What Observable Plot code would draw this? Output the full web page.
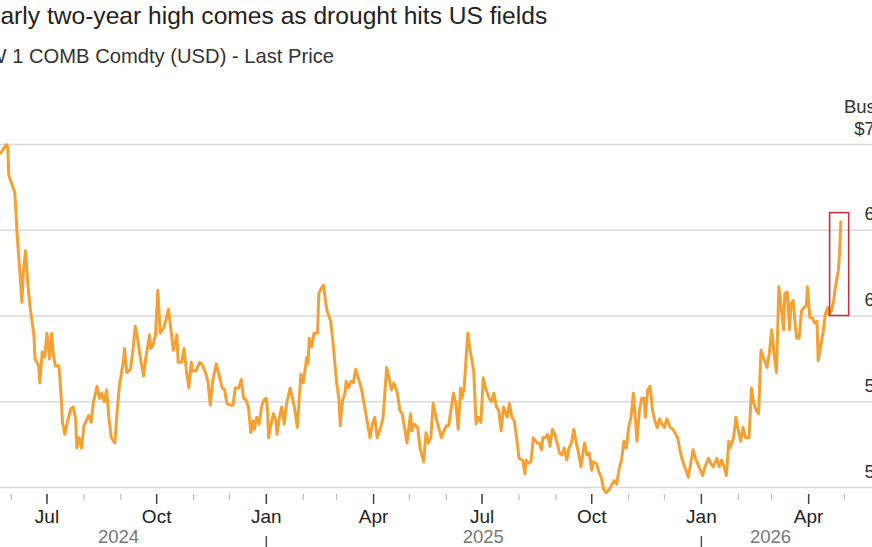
<!DOCTYPE html>
<html>
<head>
<meta charset="utf-8">
<script src="https://cdn.jsdelivr.net/npm/d3@7"></script>
<script src="https://cdn.jsdelivr.net/npm/@observablehq/plot@0.6"></script>
<style>
  html, body { margin: 0; padding: 0; background: #fff; overflow: hidden; width: 872px; height: 547px; }
  body { position: relative; font-family: "Liberation Sans", Arial, sans-serif; }
  #title { position: absolute; left: -31px; top: 0; font-size: 24.6px; line-height: 32px; color: #222; white-space: nowrap; }
  #subtitle { position: absolute; left: -26px; top: 40px; font-size: 20.2px; line-height: 32px; color: #333; white-space: nowrap; }
  #chart { position: absolute; left: 0; top: 80px; width: 910px; }
  #chart svg { max-width: none !important; }
</style>
</head>
<body>
<div id="title">Nearly two-year high comes as drought hits US fields</div>
<div id="subtitle">KW 1 COMB Comdty (USD) - Last Price</div>
<div id="chart"></div>
<script>
// KC hard red winter wheat, front-month settlement, USD per bushel
const wheat = [
  ["2024-05-23", 6.95], ["2024-05-28", 7.00], ["2024-05-29", 6.99], ["2024-05-30", 6.82],
  ["2024-06-02", 6.76], ["2024-06-04", 6.72], ["2024-06-06", 6.47], ["2024-06-08", 6.28],
  ["2024-06-10", 6.08], ["2024-06-11", 6.24], ["2024-06-13", 6.38], ["2024-06-15", 6.18],
  ["2024-06-17", 6.04], ["2024-06-20", 5.89], ["2024-06-21", 5.75], ["2024-06-24", 5.71],
  ["2024-06-25", 5.61], ["2024-06-27", 5.79], ["2024-06-29", 5.76], ["2024-07-01", 5.90],
  ["2024-07-03", 5.75], ["2024-07-05", 5.90], ["2024-07-06", 5.79], ["2024-07-08", 5.71],
  ["2024-07-11", 5.71], ["2024-07-13", 5.52], ["2024-07-14", 5.38], ["2024-07-16", 5.31],
  ["2024-07-18", 5.38], ["2024-07-21", 5.46], ["2024-07-23", 5.47], ["2024-07-25", 5.40],
  ["2024-07-26", 5.23], ["2024-07-28", 5.29], ["2024-07-30", 5.23], ["2024-08-01", 5.36],
  ["2024-08-03", 5.39], ["2024-08-05", 5.42], ["2024-08-07", 5.38], ["2024-08-09", 5.50],
  ["2024-08-12", 5.59], ["2024-08-14", 5.52], ["2024-08-16", 5.55], ["2024-08-18", 5.50],
  ["2024-08-20", 5.57], ["2024-08-22", 5.40], ["2024-08-24", 5.29], ["2024-08-27", 5.26],
  ["2024-08-29", 5.46], ["2024-08-31", 5.61], ["2024-09-03", 5.73], ["2024-09-04", 5.81],
  ["2024-09-06", 5.67], ["2024-09-09", 5.69], ["2024-09-11", 5.79], ["2024-09-13", 5.94],
  ["2024-09-15", 5.87], ["2024-09-17", 5.77], ["2024-09-20", 5.65], ["2024-09-22", 5.76],
  ["2024-09-25", 5.89], ["2024-09-26", 5.81], ["2024-09-28", 5.83], ["2024-09-30", 5.89],
  ["2024-10-02", 6.15], ["2024-10-04", 5.90], ["2024-10-07", 5.93], ["2024-10-11", 6.04],
  ["2024-10-15", 5.80], ["2024-10-18", 5.89], ["2024-10-19", 5.73], ["2024-10-22", 5.73],
  ["2024-10-24", 5.81], ["2024-10-26", 5.68], ["2024-10-28", 5.58], ["2024-10-30", 5.73],
  ["2024-10-31", 5.68], ["2024-11-03", 5.68], ["2024-11-06", 5.73], ["2024-11-08", 5.72],
  ["2024-11-11", 5.67], ["2024-11-13", 5.62], ["2024-11-15", 5.48], ["2024-11-17", 5.62],
  ["2024-11-20", 5.72], ["2024-11-23", 5.64], ["2024-11-25", 5.58], ["2024-11-27", 5.57],
  ["2024-11-29", 5.49], ["2024-12-02", 5.48], ["2024-12-04", 5.48], ["2024-12-06", 5.58],
  ["2024-12-09", 5.58], ["2024-12-11", 5.63], ["2024-12-13", 5.52], ["2024-12-15", 5.51],
  ["2024-12-17", 5.47], ["2024-12-19", 5.32], ["2024-12-21", 5.39], ["2024-12-22", 5.34],
  ["2024-12-24", 5.41], ["2024-12-26", 5.37], ["2024-12-28", 5.47], ["2024-12-30", 5.51],
  ["2025-01-01", 5.52], ["2025-01-02", 5.45], ["2025-01-03", 5.29], ["2025-01-05", 5.37],
  ["2025-01-07", 5.43], ["2025-01-09", 5.39], ["2025-01-10", 5.31], ["2025-01-12", 5.41],
  ["2025-01-14", 5.47], ["2025-01-16", 5.37], ["2025-01-18", 5.49], ["2025-01-21", 5.58],
  ["2025-01-23", 5.52], ["2025-01-25", 5.45], ["2025-01-27", 5.35], ["2025-01-30", 5.66],
  ["2025-02-01", 5.61], ["2025-02-04", 5.76], ["2025-02-05", 5.72], ["2025-02-06", 5.87],
  ["2025-02-08", 5.82], ["2025-02-10", 5.90], ["2025-02-13", 5.90], ["2025-02-14", 6.13],
  ["2025-02-16", 6.16], ["2025-02-18", 6.18], ["2025-02-20", 6.07], ["2025-02-21", 6.03],
  ["2025-02-24", 5.97], ["2025-02-26", 5.84], ["2025-03-01", 5.61], ["2025-03-03", 5.51],
  ["2025-03-04", 5.36], ["2025-03-06", 5.51], ["2025-03-08", 5.55], ["2025-03-09", 5.62],
  ["2025-03-11", 5.58], ["2025-03-13", 5.62], ["2025-03-15", 5.61], ["2025-03-17", 5.69],
  ["2025-03-20", 5.62], ["2025-03-22", 5.57], ["2025-03-24", 5.49], ["2025-03-27", 5.37],
  ["2025-03-29", 5.29], ["2025-03-31", 5.37], ["2025-04-02", 5.41], ["2025-04-04", 5.29],
  ["2025-04-07", 5.35], ["2025-04-09", 5.41], ["2025-04-12", 5.70], ["2025-04-14", 5.64],
  ["2025-04-16", 5.57], ["2025-04-18", 5.61], ["2025-04-21", 5.55], ["2025-04-23", 5.45],
  ["2025-04-25", 5.43], ["2025-04-27", 5.35], ["2025-04-29", 5.26], ["2025-05-02", 5.43],
  ["2025-05-03", 5.33], ["2025-05-05", 5.37], ["2025-05-08", 5.35], ["2025-05-10", 5.23],
  ["2025-05-13", 5.15], ["2025-05-15", 5.32], ["2025-05-17", 5.26], ["2025-05-19", 5.29],
  ["2025-05-21", 5.49], ["2025-05-24", 5.39], ["2025-05-28", 5.29], ["2025-05-30", 5.33],
  ["2025-06-01", 5.36], ["2025-06-03", 5.36], ["2025-06-04", 5.41], ["2025-06-07", 5.55],
  ["2025-06-09", 5.49], ["2025-06-11", 5.34], ["2025-06-13", 5.58], ["2025-06-14", 5.52],
  ["2025-06-16", 5.58], ["2025-06-19", 5.90], ["2025-06-21", 5.80], ["2025-06-24", 5.68],
  ["2025-06-26", 5.37], ["2025-06-28", 5.41], ["2025-06-30", 5.38], ["2025-07-02", 5.64],
  ["2025-07-04", 5.58], ["2025-07-07", 5.52], ["2025-07-09", 5.50], ["2025-07-11", 5.55],
  ["2025-07-13", 5.47], ["2025-07-15", 5.45], ["2025-07-17", 5.33], ["2025-07-19", 5.47],
  ["2025-07-22", 5.41], ["2025-07-24", 5.49], ["2025-07-26", 5.41], ["2025-07-28", 5.39],
  ["2025-07-30", 5.29], ["2025-08-01", 5.17], ["2025-08-04", 5.16], ["2025-08-06", 5.08],
  ["2025-08-07", 5.16], ["2025-08-09", 5.14], ["2025-08-11", 5.15], ["2025-08-13", 5.29],
  ["2025-08-16", 5.26], ["2025-08-18", 5.26], ["2025-08-20", 5.22], ["2025-08-21", 5.29],
  ["2025-08-23", 5.29], ["2025-08-25", 5.31], ["2025-08-27", 5.24], ["2025-08-29", 5.34],
  ["2025-08-31", 5.31], ["2025-09-02", 5.26], ["2025-09-04", 5.20], ["2025-09-06", 5.19],
  ["2025-09-08", 5.23], ["2025-09-10", 5.16], ["2025-09-12", 5.23], ["2025-09-14", 5.26],
  ["2025-09-16", 5.34], ["2025-09-18", 5.26], ["2025-09-20", 5.20], ["2025-09-22", 5.12],
  ["2025-09-23", 5.17], ["2025-09-25", 5.26], ["2025-09-27", 5.19], ["2025-09-29", 5.20],
  ["2025-10-01", 5.10], ["2025-10-02", 5.15], ["2025-10-05", 5.14], ["2025-10-07", 5.09],
  ["2025-10-09", 5.06], ["2025-10-11", 4.99], ["2025-10-13", 4.97], ["2025-10-16", 4.99],
  ["2025-10-18", 5.02], ["2025-10-20", 5.04], ["2025-10-22", 5.02], ["2025-10-24", 5.11],
  ["2025-10-26", 5.16], ["2025-10-28", 5.27], ["2025-10-30", 5.23], ["2025-11-01", 5.35],
  ["2025-11-03", 5.41], ["2025-11-05", 5.55], ["2025-11-08", 5.27], ["2025-11-10", 5.45],
  ["2025-11-12", 5.52], ["2025-11-14", 5.52], ["2025-11-15", 5.41], ["2025-11-17", 5.57],
  ["2025-11-19", 5.59], ["2025-11-21", 5.45], ["2025-11-23", 5.39], ["2025-11-25", 5.35],
  ["2025-11-27", 5.40], ["2025-11-29", 5.37], ["2025-12-01", 5.35], ["2025-12-03", 5.40],
  ["2025-12-06", 5.35], ["2025-12-08", 5.34], ["2025-12-09", 5.33], ["2025-12-12", 5.29],
  ["2025-12-14", 5.22], ["2025-12-16", 5.16], ["2025-12-19", 5.10], ["2025-12-21", 5.06],
  ["2025-12-23", 5.14], ["2025-12-25", 5.22], ["2025-12-27", 5.17], ["2025-12-30", 5.12],
  ["2026-01-02", 5.07], ["2026-01-04", 5.12], ["2026-01-07", 5.17], ["2026-01-09", 5.14],
  ["2026-01-11", 5.12], ["2026-01-14", 5.17], ["2026-01-16", 5.12], ["2026-01-18", 5.16],
  ["2026-01-20", 5.12], ["2026-01-22", 5.07], ["2026-01-24", 5.27], ["2026-01-25", 5.23],
  ["2026-01-28", 5.29], ["2026-01-30", 5.41], ["2026-02-01", 5.33], ["2026-02-03", 5.27],
  ["2026-02-05", 5.35], ["2026-02-07", 5.29], ["2026-02-10", 5.29], ["2026-02-12", 5.58],
  ["2026-02-14", 5.49], ["2026-02-16", 5.45], ["2026-02-18", 5.43], ["2026-02-20", 5.80],
  ["2026-02-22", 5.76], ["2026-02-25", 5.70], ["2026-02-27", 5.78], ["2026-03-01", 5.92],
  ["2026-03-03", 5.78], ["2026-03-05", 5.67], ["2026-03-07", 6.17], ["2026-03-09", 6.05],
  ["2026-03-11", 5.92], ["2026-03-12", 6.13], ["2026-03-14", 6.14], ["2026-03-16", 5.92],
  ["2026-03-17", 6.07], ["2026-03-19", 6.09], ["2026-03-21", 5.93], ["2026-03-22", 5.87],
  ["2026-03-24", 5.87], ["2026-03-26", 6.03], ["2026-03-28", 6.05], ["2026-03-30", 6.06],
  ["2026-03-31", 6.17], ["2026-04-02", 5.99], ["2026-04-04", 5.99], ["2026-04-06", 5.96],
  ["2026-04-08", 5.97], ["2026-04-09", 5.74], ["2026-04-11", 5.82], ["2026-04-13", 5.90],
  ["2026-04-15", 6.01], ["2026-04-17", 6.05], ["2026-04-18", 6.01], ["2026-04-20", 6.03],
  ["2026-04-22", 6.09], ["2026-04-23", 6.15], ["2026-04-24", 6.19], ["2026-04-26", 6.27],
  ["2026-04-27", 6.38], ["2026-04-28", 6.55]
];

// Highlight around the latest rally
const highlight = [{start: "2026-04-19", end: "2026-05-05", low: 6.00, high: 6.60}];

// Price gridlines and their labels (top one carries the currency sign)
const priceTicks = [5.0, 5.5, 6.0, 6.5, 7.0];
const priceLabels = ["5.00", "5.50", "6.00", "6.50", "$7.00"];
const unitLabel = "Bushel";

// Time axis: visible span, quarter labels, year labels and year dividers
const xStart = "2024-05-23";
const xEnd = "2026-05-14T12:00Z";
const quarterTicks = ["2024-07-01", "2024-10-01", "2025-01-01", "2025-04-01", "2025-07-01", "2025-10-01", "2026-01-01", "2026-04-01"];
const quarterLabels = ["Jul", "Oct", "Jan", "Apr", "Jul", "Oct", "Jan", "Apr"];
const yearLabels = [["2024-08-30", "2024"], ["2025-07-02", "2025"], ["2026-02-28", "2026"]];
const yearDividers = ["2025-01-01", "2026-01-01"];

const day = s => new Date(s.length > 10 ? s : s + "T00:00Z");
const monthTicks = d3.utcMonth.range(day("2024-06-01"), day("2026-05-02"));

const frameH = 343; // vertical extent of the price frame

const chart = Plot.plot({
  width: 910,
  height: 467,
  marginLeft: 0,
  marginRight: 50,
  marginTop: 64,
  marginBottom: 60,
  style: {fontFamily: "'Liberation Sans', Arial, sans-serif", background: "#fff", overflow: "visible", maxWidth: "none"},
  x: {type: "utc", domain: [day(xStart), day(xEnd)], axis: null},
  y: {domain: [5, 7], axis: null},
  marks: [
    Plot.ruleY(priceTicks, {stroke: "#d9d9d9", strokeWidth: 1.6, insetRight: -50}),
    // monthly minor ticks and quarterly major ticks below the frame
    Plot.ruleX(monthTicks, {x: d => d, stroke: "#bdbdbd", strokeWidth: 1.2, insetTop: frameH + 7, insetBottom: -13}),
    Plot.ruleX(quarterTicks, {x: d => day(d), stroke: "#444", strokeWidth: 1.5, insetTop: frameH + 7, insetBottom: -17}),
    Plot.text(quarterTicks, {x: d => day(d), text: (d, i) => quarterLabels[i], frameAnchor: "bottom", dy: 35, fontSize: 19, fill: "#222"}),
    Plot.ruleX(yearDividers, {x: d => day(d), stroke: "#555", strokeWidth: 1.5, insetTop: frameH + 49, insetBottom: -80}),
    Plot.text(yearLabels, {x: d => day(d[0]), text: d => d[1], frameAnchor: "bottom", dy: 55, fontSize: 18.5, fill: "#777"}),
    Plot.text(priceTicks, {y: d => d, text: (d, i) => priceLabels[i], frameAnchor: "right", dx: 40, dy: -10, lineAnchor: "bottom", textAnchor: "end", fontSize: 18.5, fill: "#333"}),
    Plot.text([7.0], {y: d => d, text: [unitLabel], frameAnchor: "right", dx: 40, dy: -32, lineAnchor: "bottom", textAnchor: "end", fontSize: 18.5, fill: "#333"}),
    Plot.line(wheat, {x: d => day(d[0]), y: d => d[1], stroke: "#f5a033", strokeWidth: 3, strokeLinejoin: "round"}),
    Plot.rect(highlight, {x1: d => day(d.start), x2: d => day(d.end), y1: "low", y2: "high", fill: "none", stroke: "#c8323f", strokeWidth: 1.6})
  ]
});
document.getElementById("chart").appendChild(chart);
</script>
</body>
</html>
